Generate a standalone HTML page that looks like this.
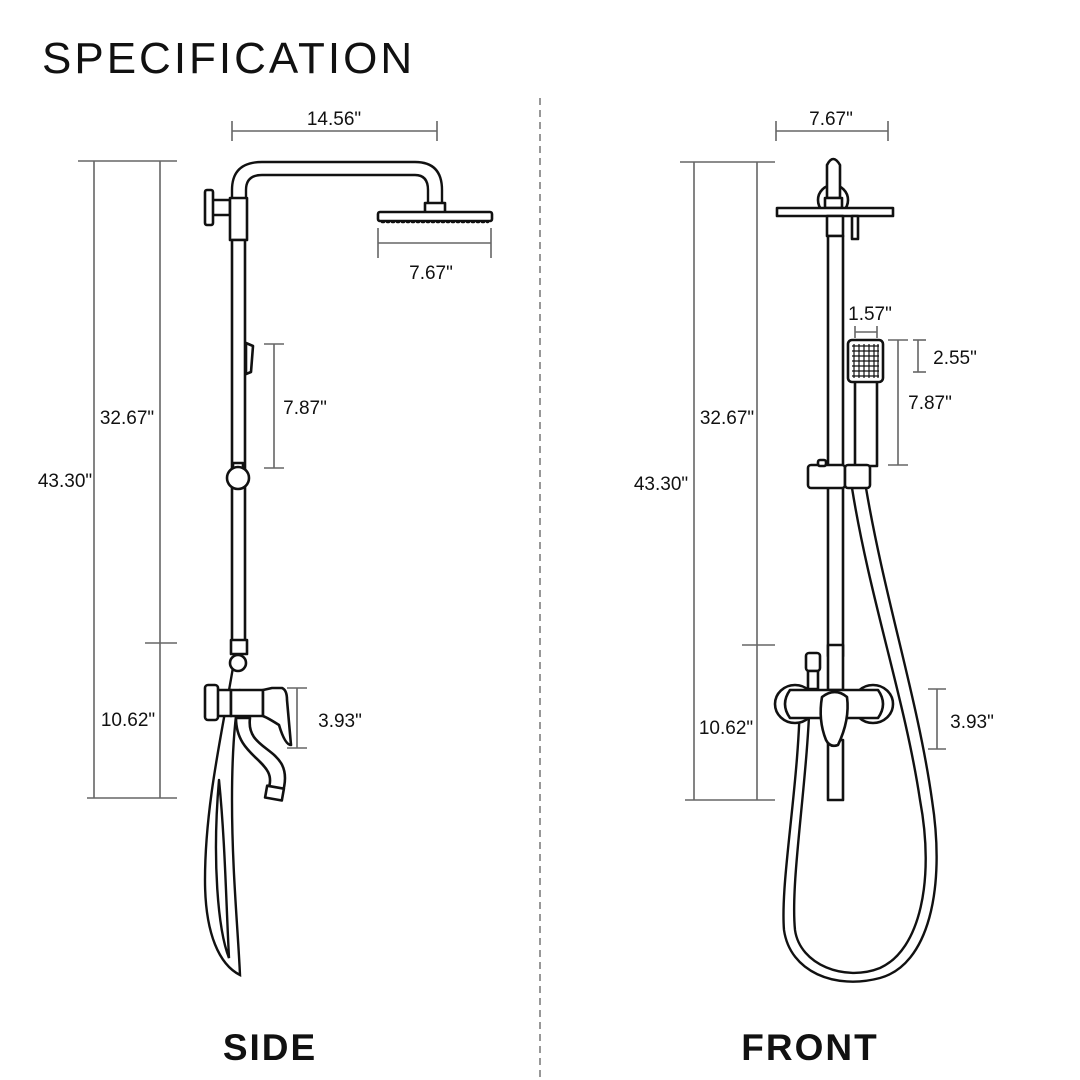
<!DOCTYPE html>
<html><head><meta charset="utf-8"><style>
html,body{margin:0;padding:0;background:#fff}
svg{display:block}
text{font-family:"Liberation Sans",sans-serif;fill:#111}
.d{stroke:#666;stroke-width:1.6;fill:none}
.o{stroke:#111;stroke-width:2.6;fill:#fff;stroke-linejoin:round;stroke-linecap:round}
.n{stroke:#111;stroke-width:2.4;fill:none;stroke-linecap:round}
.t{font-size:19px;text-anchor:middle}
</style></head><body>
<svg width="1080" height="1080" viewBox="0 0 1080 1080" xmlns="http://www.w3.org/2000/svg">
<rect width="1080" height="1080" fill="#fff"/>
<text x="42" y="73" style="font-size:44px;letter-spacing:3px">SPECIFICATION</text>
<line x1="540" y1="98" x2="540" y2="1078" stroke="#777" stroke-width="1.5" stroke-dasharray="7,5"/>

<!-- SIDE dims -->
<g class="d">
<line x1="232" y1="131" x2="437" y2="131"/><line x1="232" y1="121" x2="232" y2="141"/><line x1="437" y1="121" x2="437" y2="141"/>
<line x1="94" y1="161" x2="94" y2="798"/><line x1="160" y1="161" x2="160" y2="798"/>
<line x1="78" y1="161" x2="177" y2="161"/><line x1="145" y1="643" x2="177" y2="643"/><line x1="87" y1="798" x2="177" y2="798"/>
<line x1="378" y1="243" x2="491" y2="243"/><line x1="378" y1="228" x2="378" y2="258"/><line x1="491" y1="228" x2="491" y2="258"/>
<line x1="274" y1="344" x2="274" y2="468"/><line x1="264" y1="344" x2="284" y2="344"/><line x1="264" y1="468" x2="284" y2="468"/>
<line x1="297" y1="688" x2="297" y2="748"/><line x1="287" y1="688" x2="307" y2="688"/><line x1="287" y1="748" x2="307" y2="748"/>
</g>
<text class="t" x="334" y="125">14.56"</text>
<text class="t" x="127" y="424">32.67"</text>
<text class="t" x="65" y="487">43.30"</text>
<text class="t" x="128" y="726">10.62"</text>
<text class="t" x="431" y="279">7.67"</text>
<text class="t" x="305" y="414">7.87"</text>
<text class="t" x="340" y="727">3.93"</text>

<!-- SIDE drawing -->
<path class="n" d="M232 200 V190 Q232 162 262 162 H415 Q442 162 442 190 V203 M246 200 V190 Q246 175 262 175 H415 Q428 175 428 190 V203"/>
<rect class="o" x="425" y="203" width="20" height="10"/>
<rect class="o" x="378" y="212" width="114" height="9" rx="2"/>
<path class="n" d="M382 222 H488" stroke-dasharray="2,3" stroke-width="1.5"/>
<rect class="o" x="212" y="200" width="18" height="15"/>
<rect class="o" x="205" y="190" width="8" height="35" rx="2"/>
<rect class="o" x="230" y="198" width="17" height="42"/>
<rect class="o" x="232" y="240" width="13" height="405"/>
<path class="o" d="M246 343 L253 346 L251 372 L246 374 Z"/>
<rect class="o" x="233" y="463" width="10" height="6"/>
<circle class="o" cx="238" cy="478" r="11"/>
<!-- hose -->
<path class="n" d="M235 655 C225 720 205 800 205 880 C205 935 220 965 240 975 C238 930 232 870 232 800 C232 760 234 720 240 690"/>
<path class="n" d="M219 780 C212 860 218 930 229 958 C226 900 225 840 219 780"/>
<rect class="o" x="231" y="640" width="16" height="14"/>
<circle class="o" cx="238" cy="663" r="8"/>
<path class="o" d="M236 718 C236 760 280 760 268 790 L282 795 C298 745 245 755 250 718 Z"/>
<rect class="o" x="266" y="787" width="17" height="12" transform="rotate(10 274 793)"/>
<rect class="o" x="217" y="690" width="14" height="26"/>
<rect class="o" x="205" y="685" width="13" height="35" rx="3"/>
<path class="o" d="M231 690 H263 V716 H231 Z"/>
<path class="o" d="M263 690 L272 688 L282 688 Q287 690 287 700 L291 745 Q285 745 279 725 Q268 718 263 716 Z"/>

<!-- FRONT dims -->
<g class="d">
<line x1="776" y1="131" x2="888" y2="131"/><line x1="776" y1="121" x2="776" y2="141"/><line x1="888" y1="121" x2="888" y2="141"/>
<line x1="694" y1="162" x2="694" y2="800"/><line x1="757" y1="162" x2="757" y2="800"/>
<line x1="680" y1="162" x2="775" y2="162"/><line x1="742" y1="645" x2="775" y2="645"/><line x1="685" y1="800" x2="775" y2="800"/>
<line x1="855" y1="332" x2="877" y2="332"/><line x1="855" y1="326" x2="855" y2="338"/><line x1="877" y1="326" x2="877" y2="338"/>
<line x1="918" y1="340" x2="918" y2="372"/><line x1="913" y1="340" x2="926" y2="340"/><line x1="913" y1="372" x2="926" y2="372"/>
<line x1="898" y1="340" x2="898" y2="465"/><line x1="888" y1="340" x2="908" y2="340"/><line x1="888" y1="465" x2="908" y2="465"/>
<line x1="937" y1="689" x2="937" y2="749"/><line x1="928" y1="689" x2="946" y2="689"/><line x1="928" y1="749" x2="946" y2="749"/>
</g>
<text class="t" x="831" y="125">7.67"</text>
<text class="t" x="727" y="424">32.67"</text>
<text class="t" x="661" y="490">43.30"</text>
<text class="t" x="726" y="734">10.62"</text>
<text class="t" x="870" y="320">1.57"</text>
<text class="t" x="955" y="364">2.55"</text>
<text class="t" x="930" y="409">7.87"</text>
<text class="t" x="972" y="728">3.93"</text>

<!-- FRONT drawing -->
<circle class="o" cx="833" cy="200" r="15"/>
<path class="o" d="M827 198 V165 Q833 153 840 165 V198 Z"/>
<rect class="o" x="825" y="198" width="17" height="10"/>
<rect class="o" x="777" y="208" width="116" height="8"/>
<rect class="o" x="852" y="216" width="6" height="23"/>
<rect class="o" x="827" y="216" width="16" height="20"/>
<rect class="o" x="828" y="236" width="15" height="420"/>
<!-- hose -->
<path class="n" stroke-width="2.2" d="M852 488 C870 600 905 700 920 800 C935 880 920 950 880 968 C845 982 800 965 795 930 C790 880 808 780 810 690"/>
<path class="n" stroke-width="2.2" d="M866 488 C885 600 918 700 932 800 C946 890 928 965 880 978 C835 990 790 972 784 930 C780 880 800 780 800 690"/>
<!-- handheld -->
<rect class="o" x="855" y="380" width="22" height="86"/>
<rect class="o" x="848" y="340" width="35" height="42" rx="4"/>
<g stroke="#111" stroke-width="1.2">
<line x1="852" y1="346" x2="879" y2="346"/><line x1="852" y1="351" x2="879" y2="351"/><line x1="852" y1="356" x2="879" y2="356"/><line x1="852" y1="361" x2="879" y2="361"/><line x1="852" y1="366" x2="879" y2="366"/><line x1="852" y1="371" x2="879" y2="371"/><line x1="852" y1="376" x2="879" y2="376"/>
<line x1="854" y1="344" x2="854" y2="378"/><line x1="859" y1="344" x2="859" y2="378"/><line x1="864" y1="344" x2="864" y2="378"/><line x1="869" y1="344" x2="869" y2="378"/><line x1="874" y1="344" x2="874" y2="378"/><line x1="878" y1="344" x2="878" y2="378"/>
</g>
<rect class="o" x="808" y="465" width="37" height="23" rx="3"/>
<rect class="o" x="845" y="465" width="25" height="23" rx="3"/>
<rect class="o" x="818" y="460" width="8" height="6" rx="2"/>
<!-- mixer -->
<rect class="o" x="828" y="645" width="15" height="45"/>
<rect class="o" x="806" y="653" width="14" height="18" rx="3"/>
<rect class="o" x="808" y="671" width="10" height="18"/>
<rect class="o" x="828" y="740" width="15" height="60"/>
<ellipse class="o" cx="795" cy="704" rx="20" ry="19"/>
<ellipse class="o" cx="873" cy="704" rx="20" ry="19"/>
<path class="o" d="M790 690 H878 Q888 704 878 718 H790 Q780 704 790 690 Z"/>
<path class="o" d="M822 697 Q835 687 847 697 Q850 720 838 745 Q830 748 826 740 Q818 720 822 697 Z"/>

<text x="270" y="1060" style="font-size:37px;font-weight:bold;text-anchor:middle;letter-spacing:2px">SIDE</text>
<text x="810" y="1060" style="font-size:37px;font-weight:bold;text-anchor:middle;letter-spacing:2px">FRONT</text>
</svg>
</body></html>
